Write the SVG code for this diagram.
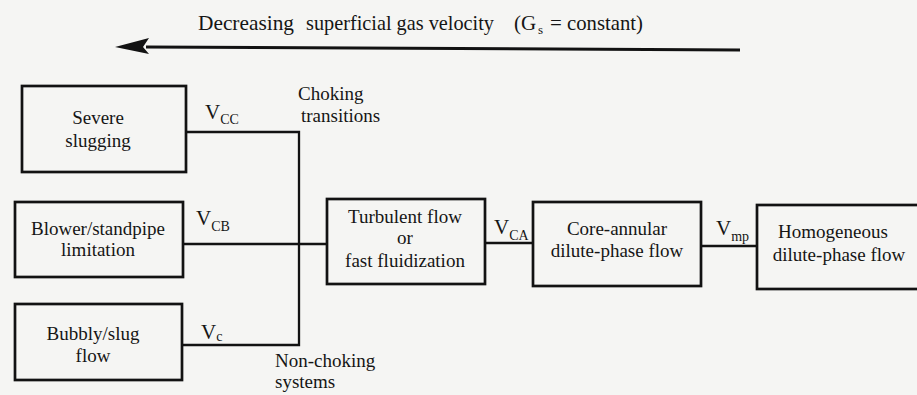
<svg xmlns="http://www.w3.org/2000/svg" width="917" height="395" viewBox="0 0 917 395">
<style>
  .bg { fill: #f5f5f3; }
  .box { fill: none; stroke: #121212; stroke-width: 2.7; }
  .ln { fill: none; stroke: #121212; stroke-width: 2.3; }
  .t { font-family: "Liberation Serif", "Times New Roman", serif; font-size: 19px; fill: #151515; text-anchor: middle; }
  .lbl { font-family: "Liberation Serif", "Times New Roman", serif; font-size: 19px; fill: #151515; }
  .v { font-family: "Liberation Serif", "Times New Roman", serif; font-size: 21px; fill: #151515; }
  .sub { font-size: 14px; }
  .title { font-family: "Liberation Serif", "Times New Roman", serif; font-size: 21px; fill: #151515; }
</style>
<rect class="bg" x="0" y="0" width="917" height="395"/>

<g id="title">
  <text class="title" y="30"><tspan x="198" textLength="96" lengthAdjust="spacingAndGlyphs">Decreasing</tspan><tspan x="306" textLength="188" lengthAdjust="spacingAndGlyphs">superficial gas velocity</tspan><tspan x="514">(G</tspan><tspan x="538" y="34" font-size="13">s</tspan><tspan x="550" y="30">=</tspan><tspan x="567" textLength="76" lengthAdjust="spacingAndGlyphs">constant)</tspan></text>
  <line x1="146" y1="47" x2="740" y2="50" stroke="#121212" stroke-width="3"/>
  <polygon points="115,47 149,38 143,47 149,54" fill="#121212"/>
</g>

<g id="connectors">
  <polyline class="ln" points="186,132 299,132 299,345 182,345"/>
  <line class="ln" x1="183" y1="244" x2="327" y2="244"/>
  <line class="ln" x1="485" y1="243" x2="533" y2="243"/>
  <line class="ln" x1="701" y1="246" x2="757" y2="246"/>
  <text class="v" x="205" y="119">V<tspan class="sub" dy="5">CC</tspan></text>
  <text class="v" x="196" y="225">V<tspan class="sub" dy="6">CB</tspan></text>
  <text class="v" x="201" y="339" font-size="18">V<tspan class="sub" dy="2">c</tspan></text>
  <text class="v" x="494" y="234">V<tspan class="sub" dy="6">CA</tspan></text>
  <text class="v" x="716" y="235">V<tspan class="sub" dy="6">mp</tspan></text>
  <text class="lbl" x="298" y="100">Choking</text>
  <text class="lbl" x="301" y="122">transitions</text>
  <text class="lbl" x="275" y="367">Non-choking</text>
  <text class="lbl" x="275" y="388">systems</text>
</g>

<g id="severe">
  <rect class="box" x="22" y="86" width="164" height="86"/>
  <text class="t" x="98" y="124">Severe</text>
  <text class="t" x="98" y="147">slugging</text>
</g>

<g id="blower">
  <rect class="box" x="15" y="202" width="168" height="75"/>
  <text class="t" x="98" y="235">Blower/standpipe</text>
  <text class="t" x="98" y="256">limitation</text>
</g>

<g id="bubbly">
  <rect class="box" x="15" y="304" width="167" height="76"/>
  <text class="t" x="93" y="340">Bubbly/slug</text>
  <text class="t" x="93" y="362">flow</text>
</g>

<g id="turbulent">
  <rect class="box" x="327" y="199" width="158" height="85"/>
  <text class="t" x="405" y="223">Turbulent flow</text>
  <text class="t" x="405" y="244">or</text>
  <text class="t" x="405" y="267">fast fluidization</text>
</g>

<g id="core">
  <rect class="box" x="533" y="202" width="168" height="84"/>
  <text class="t" x="617" y="235">Core-annular</text>
  <text class="t" x="617" y="257">dilute-phase flow</text>
</g>

<g id="homogeneous">
  <rect class="box" x="757" y="205" width="180" height="84"/>
  <text class="t" x="833" y="238">Homogeneous</text>
  <text class="t" x="839" y="261">dilute-phase flow</text>
</g>
</svg>
